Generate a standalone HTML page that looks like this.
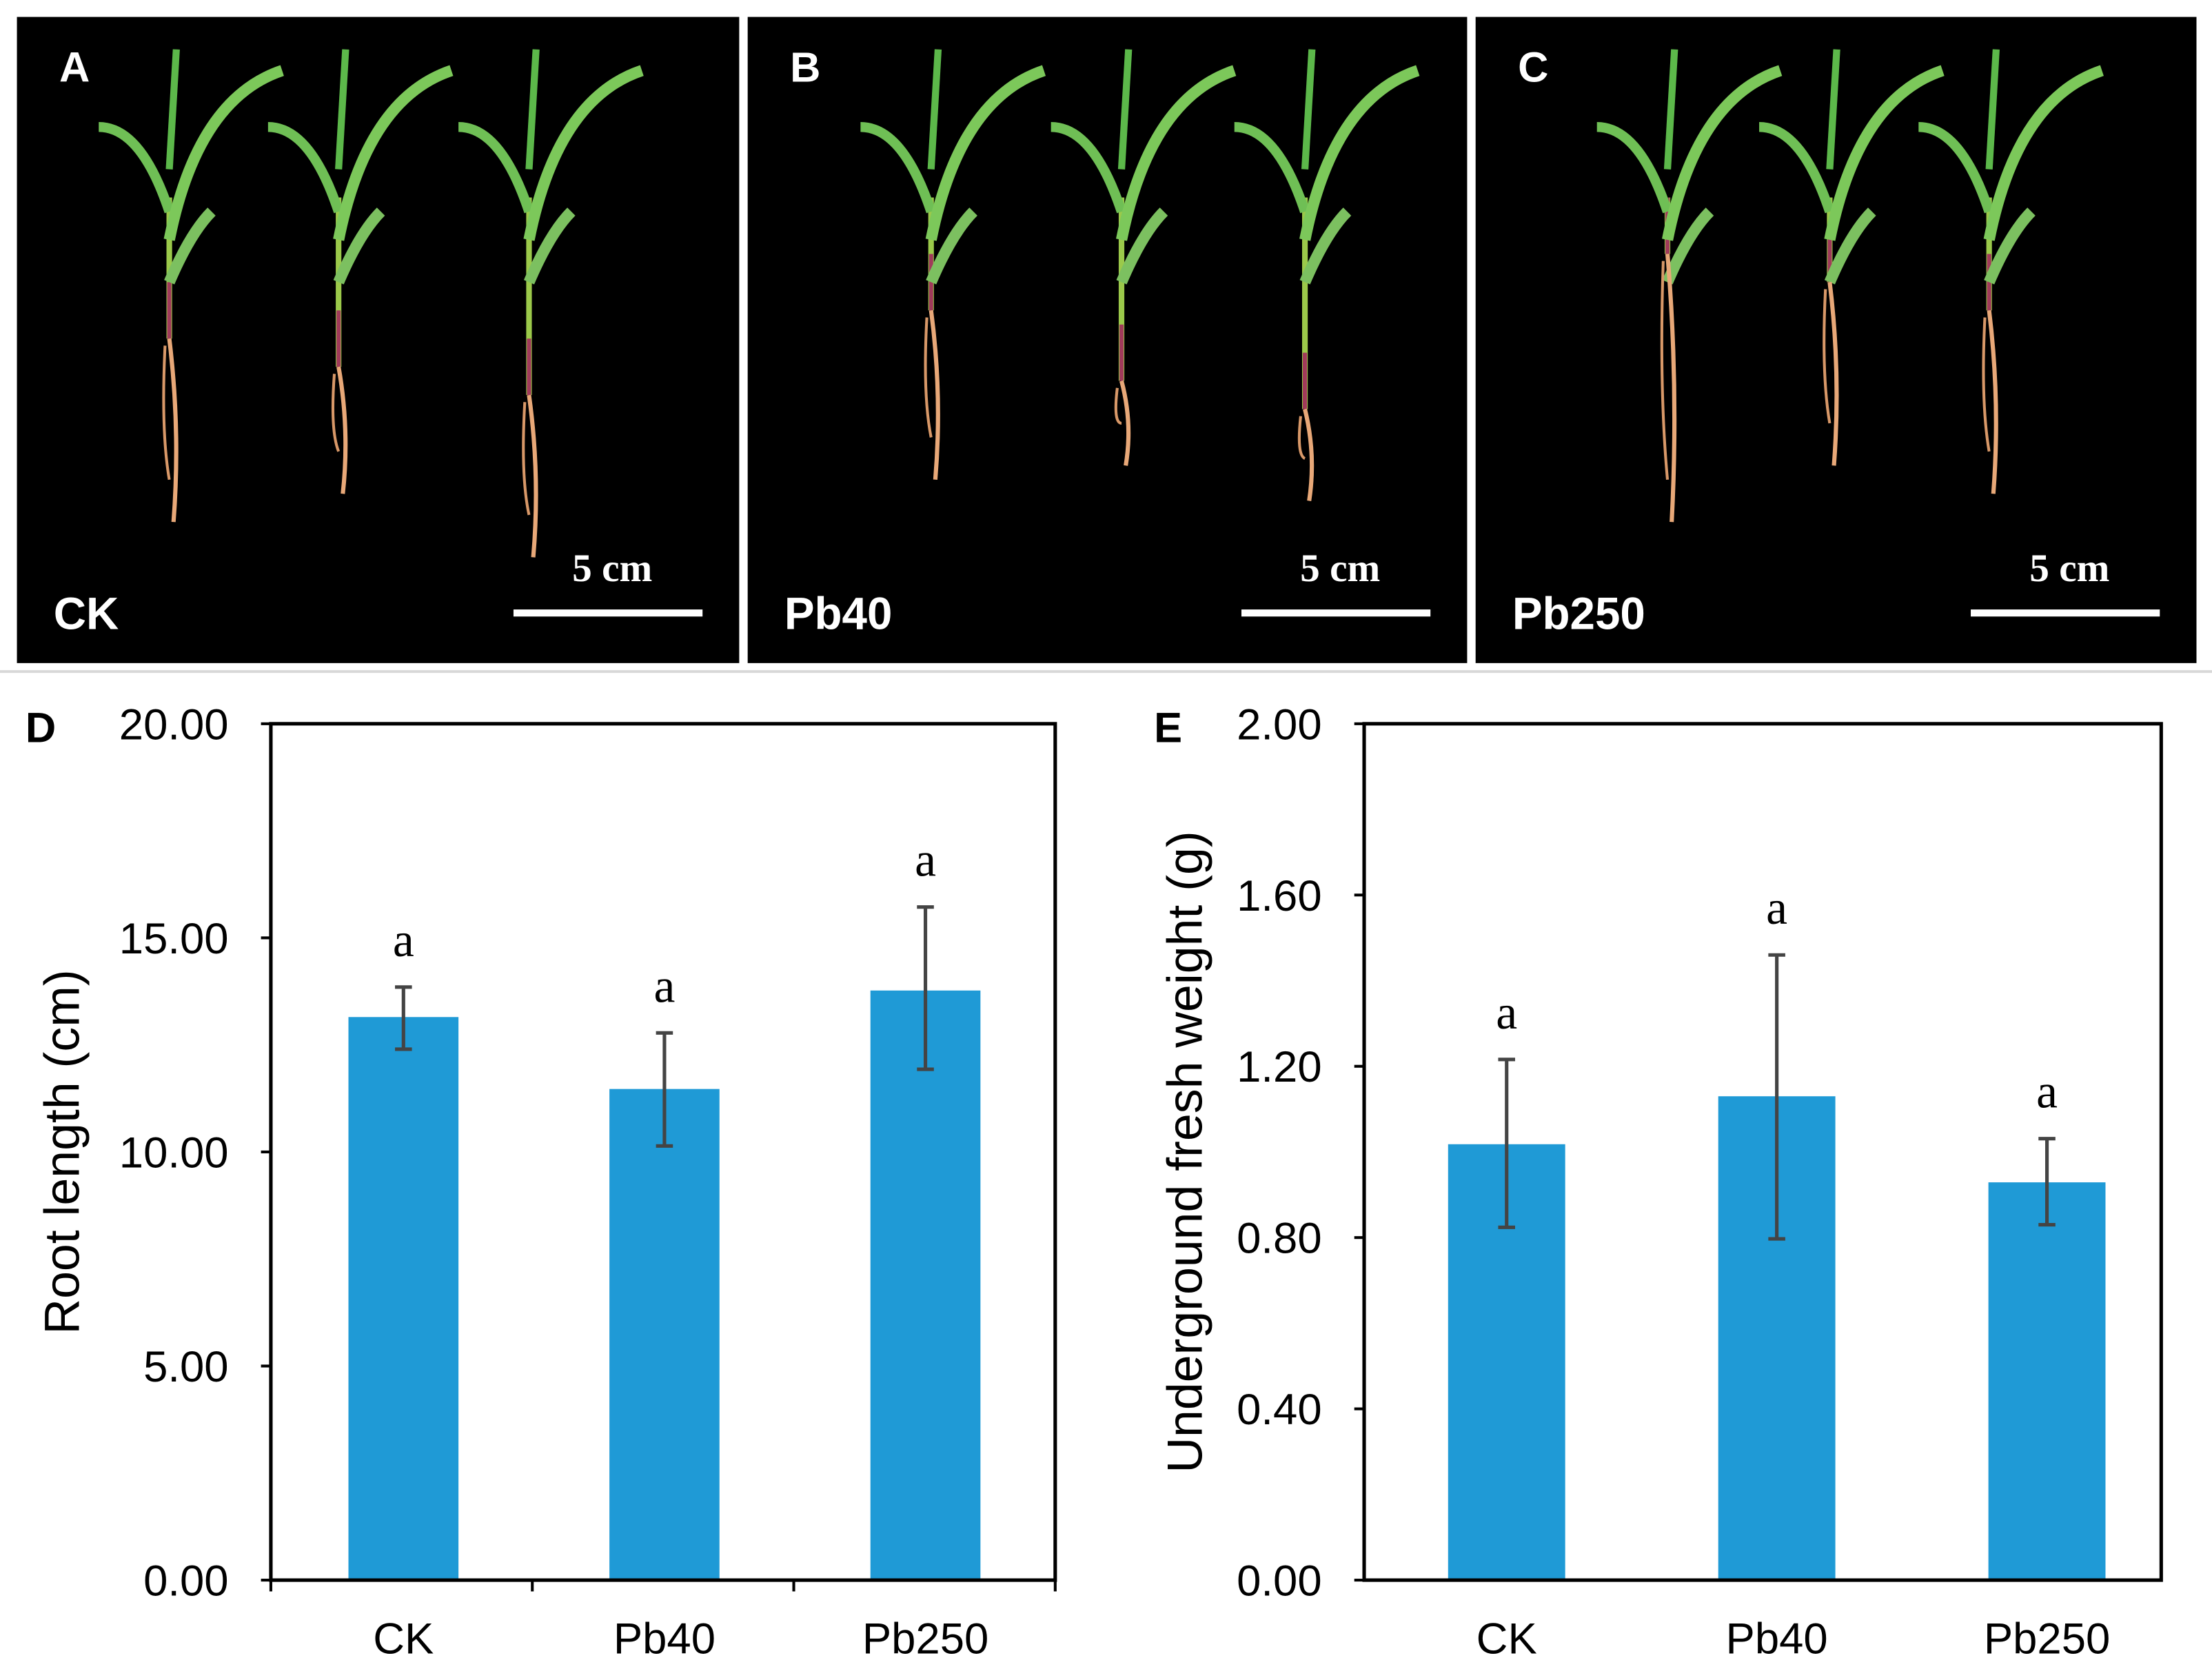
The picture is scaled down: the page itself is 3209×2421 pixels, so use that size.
<!DOCTYPE html>
<html><head><meta charset="utf-8"><style>
html,body{margin:0;padding:0;background:#fff;}
svg{display:block;}
</style></head><body>
<svg id="fig" width="3209" height="2421" viewBox="0 0 1568 1183" preserveAspectRatio="none" xmlns="http://www.w3.org/2000/svg" font-family="Liberation Sans, sans-serif">
<rect width="1568" height="1183" fill="#fff"/>
<line x1="0" y1="476" x2="1568" y2="476" stroke="#d8d8d8" stroke-width="2"/>
<g id="photos"></g>
<g id="chartD"></g>
<g id="chartE"></g>
</svg>
<script>
const NS='http://www.w3.org/2000/svg';
function mk(parent,tag,attrs,text){const e=document.createElementNS(NS,tag);for(const k in attrs)e.setAttribute(k,attrs[k]);if(text!==undefined)e.textContent=text;parent.appendChild(e);return e;}

// ---- Chart data ----
const categories=['CK','Pb40','Pb250'];
const rootLength=[13.15,11.47,13.77];
const rootLengthLow=[12.4,10.14,11.93];
const rootLengthHigh=[13.85,12.78,15.72];
const rootTicks=[0,5,10,15,20];
const rootTickLabels=['0.00','5.00','10.00','15.00','20.00'];
const weight=[1.018,1.13,0.929];
const weightLow=[0.824,0.797,0.83];
const weightHigh=[1.216,1.46,1.031];
const weightTicks=[0,0.4,0.8,1.2,1.6,2.0];
const weightTickLabels=['0.00','0.40','0.80','1.20','1.60','2.00'];
const sigLetters=['a','a','a'];

function drawChart(g,cfg){
  const {left,right,top,bottom,max,vals,lo,hi,ticks,tickLabels,title,titleX,titleSize,letter,catTicks,barW,name,firstC,step}=cfg;
  const y=v=>bottom-(v/max)*(bottom-top);
  const band=(right-left)/categories.length;
  const xc=i=>firstC+step*i;
  mk(g,'text',{x:letter.x,y:letter.y,'font-size':30,'font-weight':'bold',},letter.t);
  ticks.forEach((t,i)=>{
    mk(g,'line',{x1:left-7,x2:left,y1:y(t),y2:y(t),stroke:'#000','stroke-width':2,});
    mk(g,'text',{x:left-30,y:y(t)+11,'text-anchor':'end','font-size':31,fill:'#000',},tickLabels[i]);
  });
  vals.forEach((v,i)=>{
    mk(g,'rect',{x:xc(i)-barW/2,y:y(v),width:barW,height:y(0)-y(v),fill:'#1f9ad6',});
    mk(g,'line',{x1:xc(i),x2:xc(i),y1:y(hi[i]),y2:y(lo[i]),stroke:'#444','stroke-width':2.5,});
    mk(g,'line',{x1:xc(i)-6,x2:xc(i)+6,y1:y(hi[i]),y2:y(hi[i]),stroke:'#444','stroke-width':2.5,});
    mk(g,'line',{x1:xc(i)-6,x2:xc(i)+6,y1:y(lo[i]),y2:y(lo[i]),stroke:'#444','stroke-width':2.5,});
    mk(g,'text',{x:xc(i),y:y(Math.max(hi[i],v))-22,'text-anchor':'middle','font-size':34,'font-family':'Liberation Serif, serif',},sigLetters[i]);
    mk(g,'text',{x:xc(i),y:bottom+52,'text-anchor':'middle','font-size':31,},categories[i]);
  });
  mk(g,'rect',{x:left,y:top,width:right-left,height:bottom-top,fill:'none',stroke:'#000','stroke-width':2.5,});
  if(catTicks){for(let i=0;i<=categories.length;i++){const xx=left+band*i;mk(g,'line',{x1:xx,x2:xx,y1:bottom,y2:bottom+8,stroke:'#000','stroke-width':2,});}}
  const cy=(top+bottom)/2;
  mk(g,'text',{x:titleX,y:cy,transform:`rotate(-90 ${titleX} ${cy})`,'text-anchor':'middle','font-size':titleSize,},title);
}
drawChart(document.getElementById('chartD'),{left:192,right:748,top:513,bottom:1120,max:20,vals:rootLength,lo:rootLengthLow,hi:rootLengthHigh,ticks:rootTicks,tickLabels:rootTickLabels,title:'Root length  (cm)',titleX:56,titleSize:35,letter:{x:18,y:526,t:'D'},catTicks:true,barW:78,name:'root-length-chart',firstC:286,step:185});
drawChart(document.getElementById('chartE'),{left:967,right:1532,top:513,bottom:1120,max:2,vals:weight,lo:weightLow,hi:weightHigh,ticks:weightTicks,tickLabels:weightTickLabels,title:'Underground  fresh weight  (g)',titleX:852,titleSize:35,letter:{x:818,y:526,t:'E'},catTicks:false,barW:83,name:'fresh-weight-chart',firstC:1068,step:191.5});

// ---- Photo panels ----
const pg=document.getElementById('photos');
const panels=[{x:12,w:512,l:'A',t:'CK',plants:[[120,240,370],[240,260,350],[375,280,395]]},
 {x:530,w:510,l:'B',t:'Pb40',plants:[[660,220,340],[795,270,330],[925,290,355]]},
 {x:1046,w:511,l:'C',t:'Pb250',plants:[[1182,180,370],[1297,200,330],[1410,220,350]]}];
panels.forEach(p=>{
  const g=mk(pg,'g',{});
  mk(g,'rect',{x:p.x,y:12,width:p.w,height:458,fill:'#000'});
  p.plants.forEach(([px,base,rootEnd])=>{
    const pl=mk(g,'g',{});
    mk(pl,'path',{d:`M${px} ${base} L${px} 140`,stroke:'#9bc94a','stroke-width':4,fill:'none'});
    mk(pl,'path',{d:`M${px} ${base} L${px} ${base-40}`,stroke:'#a03a5a','stroke-width':3,fill:'none'});
    mk(pl,'path',{d:`M${px} 150 Q${px-20} 90 ${px-50} 90`,stroke:'#6fbf55','stroke-width':7,fill:'none'});
    mk(pl,'path',{d:`M${px} 170 Q${px+20} 70 ${px+80} 50`,stroke:'#7cc85a','stroke-width':8,fill:'none'});
    mk(pl,'path',{d:`M${px} 120 L${px+5} 35`,stroke:'#5cb84a','stroke-width':5,fill:'none'});
    mk(pl,'path',{d:`M${px} 200 Q${px+15} 165 ${px+30} 150`,stroke:'#7cc060','stroke-width':8,fill:'none'});
    mk(pl,'path',{d:`M${px} ${base} Q${px+8} ${(base+rootEnd)/2} ${px+3} ${rootEnd}`,stroke:'#e8a878','stroke-width':3,fill:'none'});
    mk(pl,'path',{d:`M${px-3} ${base+5} Q${px-6} ${(base+rootEnd)/2} ${px} ${rootEnd-30}`,stroke:'#d89868','stroke-width':2,fill:'none'});
  });
  mk(g,'text',{x:p.x+30,y:58,fill:'#fff','font-size':30,'font-weight':'bold',},p.l);
  mk(g,'text',{x:p.x+26,y:446,fill:'#fff','font-size':32,'font-weight':'bold',},p.t);
  mk(g,'text',{x:p.x+p.w-90,y:412,fill:'#fff','font-size':28,'font-weight':'bold','text-anchor':'middle','font-family':'Liberation Serif, serif',},'5 cm');
  mk(g,'rect',{x:p.x+p.w-160,y:432,width:134,height:5,fill:'#fff',});
});
</script>
</body></html>
